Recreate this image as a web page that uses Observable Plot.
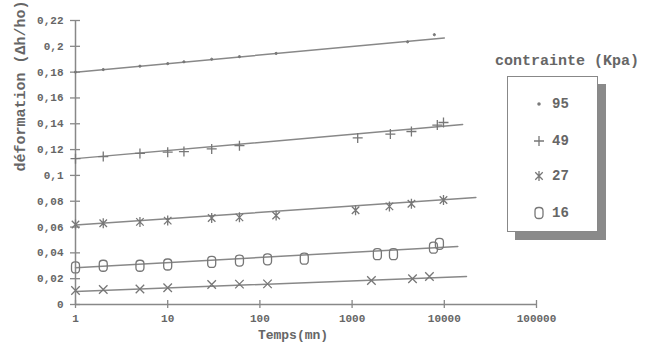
<!DOCTYPE html>
<html>
<head>
<meta charset="utf-8">
<script src="https://cdn.jsdelivr.net/npm/d3@7"></script>
<script src="https://cdn.jsdelivr.net/npm/@observablehq/plot@0.6"></script>
<style>
  html, body { margin: 0; padding: 0; background: #fff; }
  #wrap { position: relative; width: 656px; height: 347px; font-family: "Liberation Mono", monospace; font-weight: bold; color: #666; }
  #legendTitle { position: absolute; left: 495px; top: 53px; font-size: 15px; white-space: nowrap; }
  #legendBox { position: absolute; left: 507px; top: 76px; width: 89px; height: 154px; border: 1.5px solid #888; background: #fff; box-shadow: 8px 8px 0 #8a8a8a; }
  .entry { position: absolute; left: 0; height: 20px; display: flex; align-items: center; font-size: 14px; }
  .entry svg { margin-left: 24px; margin-right: 6px; }
</style>
</head>
<body>
<div id="wrap"></div>
<script>
// ---- data ----
const xTicks = [1, 10, 100, 1000, 10000, 100000];
const yTicks = [0, 0.02, 0.04, 0.06, 0.08, 0.1, 0.12, 0.14, 0.16, 0.18, 0.2, 0.22];
const xTitle = "Temps(mn)";
const yTitle = "déformation (Δh/ho)";
const legendTitle = "contrainte (Kpa)";

const t95 = [1, 2, 5, 10, 15, 30, 60, 150, 4000, 7800];
const v95 = [0.180, 0.182, 0.1846, 0.1866, 0.188, 0.190, 0.192, 0.1945, 0.2035, 0.209];

const t49 = [1, 2, 5, 10, 15, 30, 60, 1150, 2600, 4400, 8400, 9800];
const v49 = [0.113, 0.1146, 0.117, 0.118, 0.1185, 0.1205, 0.123, 0.129, 0.132, 0.134, 0.139, 0.141];

const t27 = [1, 2, 5, 10, 30, 60, 150, 1090, 2540, 4400, 9800];
const v27 = [0.062, 0.063, 0.064, 0.065, 0.067, 0.0675, 0.069, 0.073, 0.076, 0.078, 0.081];

const t16 = [1, 2, 5, 10, 30, 60, 121, 303, 1880, 2810, 7630, 8850];
const v16 = [0.0287, 0.030, 0.030, 0.031, 0.033, 0.034, 0.035, 0.0355, 0.039, 0.039, 0.044, 0.047];

const tX = [1, 2, 5, 10, 30, 60, 121, 1620, 4520, 6900];
const vX = [0.0108, 0.0116, 0.012, 0.013, 0.0155, 0.0158, 0.016, 0.0186, 0.020, 0.0217];

// fitted lines: start (t=1) and end values
const fitSeries = ["95", "49", "27", "16", "x"];
const fitT0 = [1, 1, 1, 1, 1];
const fitV0 = [0.180, 0.113, 0.0615, 0.0285, 0.010];
const fitT1 = [10000, 15800, 22000, 14000, 17400];
const fitV1 = [0.2065, 0.1394, 0.0829, 0.045, 0.0217];

const legendLabels = ["95", "49", "27", "16"];

// ---- symbols ----
const rOf = s => Math.sqrt(s / Math.PI);
const symDot = { draw(c, s) { const r = rOf(s) * 0.22; c.moveTo(r, 0); c.arc(0, 0, r, 0, 2 * Math.PI); } };
const symPlus = { draw(c, s) { const r = rOf(s); c.moveTo(-r, 0); c.lineTo(r, 0); c.moveTo(0, -r); c.lineTo(0, r); } };
const symTimes = { draw(c, s) { const r = rOf(s) * 0.85; c.moveTo(-r, -r); c.lineTo(r, r); c.moveTo(r, -r); c.lineTo(-r, r); } };
const symAst = { draw(c, s) { const r = rOf(s); const d = r * 0.75; c.moveTo(0, -r); c.lineTo(0, r); c.moveTo(-d, -d); c.lineTo(d, d); c.moveTo(d, -d); c.lineTo(-d, d); } };
const symZero = { draw(c, s) {
  const r = rOf(s); const w = r * 0.8, h = r * 1.1, k = r * 0.7;
  c.moveTo(-w + k, -h); c.lineTo(w - k, -h); c.quadraticCurveTo(w, -h, w, -h + k);
  c.lineTo(w, h - k); c.quadraticCurveTo(w, h, w - k, h); c.lineTo(-w + k, h);
  c.quadraticCurveTo(-w, h, -w, h - k); c.lineTo(-w, -h + k); c.quadraticCurveTo(-w, -h, -w + k, -h); c.closePath();
} };
const legendSyms = [symDot, symPlus, symAst, symZero];

const pts = (ts, vs) => ts.map((t, i) => ({ t, v: vs[i] }));
const fitRows = fitSeries.flatMap((s, i) => [
  { s, t: fitT0[i], v: fitV0[i] },
  { s, t: fitT1[i], v: fitV1[i] }
]);

const ink = "#777";
const R = 5;
const fmtY = d => String(d).replace(".", ",");

const chart = Plot.plot({
  width: 656,
  height: 347,
  marginLeft: 75,
  marginRight: 120,
  marginTop: 20,
  marginBottom: 43,
  style: { fontFamily: "Liberation Mono, monospace", fontWeight: "bold", color: "#666", background: "transparent" },
  x: { type: "log", domain: [1, 100000] },
  y: { domain: [0, 0.22] },
  marks: [
    Plot.ruleX([1], { stroke: "#888", strokeWidth: 1.5 }),
    Plot.ruleY([0], { stroke: "#888", strokeWidth: 1.5 }),
    Plot.axisY(yTicks, { tickSize: 10, dx: 5, text: null, stroke: "#888", strokeWidth: 1.3, label: null }),
    Plot.axisY(yTicks, { tickSize: 0, tickPadding: 12, tickFormat: fmtY, fontSize: 11, label: null }),
    Plot.axisX(xTicks, { tickSize: 8, dy: -4, text: null, stroke: "#888", strokeWidth: 1.3, label: null }),
    Plot.axisX(xTicks, { tickSize: 0, tickPadding: 10, tickFormat: d => String(d), fontSize: 11, label: null }),
    Plot.line(fitRows, { x: "t", y: "v", z: "s", stroke: "#888", strokeWidth: 1.5 }),
    Plot.dot(pts(t95, v95), { x: "t", y: "v", symbol: symDot, r: R, stroke: ink, fill: ink, strokeWidth: 1 }),
    Plot.dot(pts(t49, v49), { x: "t", y: "v", symbol: symPlus, r: R, stroke: ink, strokeWidth: 1.3 }),
    Plot.dot(pts(t27, v27), { x: "t", y: "v", symbol: symAst, r: R, stroke: ink, strokeWidth: 1.3 }),
    Plot.dot(pts(t16, v16), { x: "t", y: "v", symbol: symZero, r: R, stroke: ink, fill: "none", strokeWidth: 1.3 }),
    Plot.dot(pts(tX, vX), { x: "t", y: "v", symbol: symTimes, r: R, stroke: ink, strokeWidth: 1.3 }),
    Plot.text([xTitle], { frameAnchor: "bottom", dx: -13, dy: 34, fontSize: 13, fill: "#666" }),
    Plot.text([yTitle], { frameAnchor: "left", dx: -55, dy: 9, rotate: -90, fontSize: 15, fill: "#666", style: "letter-spacing:1px" })
  ]
});

const wrap = document.getElementById("wrap");
wrap.appendChild(chart);

// legend
const lt = document.createElement("div");
lt.id = "legendTitle";
lt.textContent = legendTitle;
wrap.appendChild(lt);
const box = document.createElement("div");
box.id = "legendBox";
wrap.appendChild(box);
const entryTops = [17, 54, 89, 126];
legendLabels.forEach((lab, i) => {
  const e = document.createElement("div");
  e.className = "entry";
  e.style.top = entryTops[i] + "px";
  const svg = d3.create("svg").attr("width", 14).attr("height", 14);
  const p = d3.path();
  legendSyms[i].draw(p, R * R * Math.PI);
  svg.append("path").attr("transform", "translate(7,7)").attr("d", p.toString())
    .attr("fill", i === 0 ? ink : "none").attr("stroke", ink).attr("stroke-width", 1.3);
  e.appendChild(svg.node());
  const s = document.createElement("span");
  s.textContent = lab;
  e.appendChild(s);
  box.appendChild(e);
});
</script>
</body>
</html>
